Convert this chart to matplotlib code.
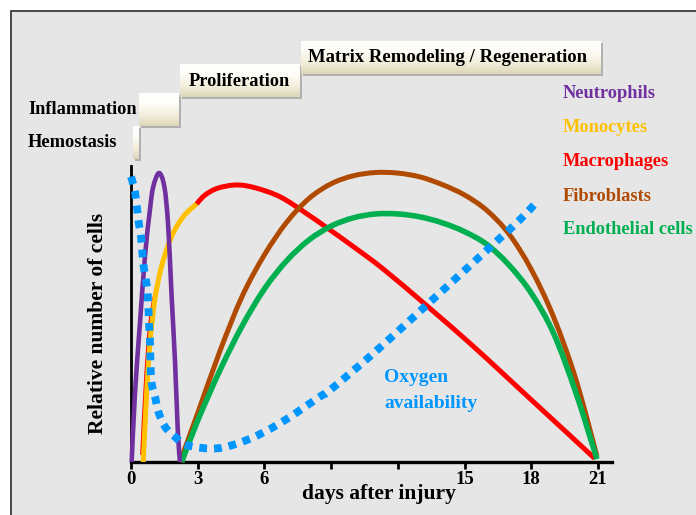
import numpy as np
import matplotlib
matplotlib.use("Agg")
import matplotlib.pyplot as plt
from matplotlib.patches import Rectangle, PathPatch
from matplotlib.path import Path
from matplotlib.colors import LinearSegmentedColormap

# ---------------- data ----------------
neut_x = [0.03, 0.18, 0.40, 0.63, 0.85, 1.00, 1.26, 1.50, 1.67, 1.82, 1.98, 2.10, 2.20]
neut_y = [0.00, 0.233, 0.466, 0.696, 0.851, 0.930, 0.976, 0.930, 0.800, 0.569, 0.338, 0.113, 0.00]

mono_x = [0.55, 0.70, 0.85, 1.07, 1.37, 1.82, 2.35, 2.95]
mono_y = [0.00, 0.232, 0.400, 0.547, 0.660, 0.761, 0.829, 0.872]

macro_early_x = [0.45, 0.63, 0.85, 1.23, 1.67, 2.28, 2.95]
macro_early_y = [0.024, 0.288, 0.490, 0.626, 0.739, 0.823, 0.872]

macro_x = [2.95, 3.33, 3.90, 4.75, 5.60, 6.70, 7.80, 8.95, 10.10, 11.34, 13.30, 15.24, 16.75, 18.10, 19.50, 20.85]
macro_y = [0.872, 0.902, 0.925, 0.936, 0.926, 0.896, 0.844, 0.784, 0.722, 0.652, 0.528, 0.401, 0.297, 0.203, 0.106, 0.012]

fib_x = [2.2, 3.0, 4.0, 5.0, 6.0, 7.0, 8.0, 9.0, 10.0, 11.0, 12.0, 13.0, 14.0, 15.0, 16.0, 17.0, 18.0, 19.0, 20.0, 20.95]
fib_y = [0.00, 0.165, 0.375, 0.560, 0.700, 0.810, 0.890, 0.940, 0.967, 0.978, 0.976, 0.963, 0.937, 0.902, 0.850, 0.770,
         0.650, 0.490, 0.280, 0.020]

endo_x = [2.28, 3.0, 4.0, 5.0, 6.0, 7.0, 8.0, 9.0, 10.0, 11.0, 12.0, 13.0, 14.0, 15.0, 16.0, 17.0, 18.0, 19.0, 20.0, 20.95]
endo_y = [0.00, 0.140, 0.310, 0.460, 0.585, 0.680, 0.750, 0.797, 0.825, 0.838, 0.838, 0.828, 0.808, 0.778, 0.735, 0.665,
          0.570, 0.435, 0.235, 0.010]

oxy_x = [0.00, 0.18, 0.33, 0.45, 0.55, 0.66, 0.75, 0.81, 0.85, 0.88, 0.93, 1.08, 1.23, 1.53, 1.98, 2.50,
         3.85, 5.20, 6.70, 8.50, 8.95, 10.90, 13.00, 15.10, 16.50, 17.48, 18.30]
oxy_y = [0.964, 0.913, 0.818, 0.761, 0.671, 0.620, 0.570, 0.469, 0.418, 0.322, 0.265, 0.221, 0.170, 0.119, 0.085, 0.057,
         0.046, 0.074, 0.131, 0.221, 0.243, 0.367, 0.510, 0.654, 0.750, 0.818, 0.883]

tick_vals = [0, 3, 6, 9, 12, 15, 18, 21]
tick_labels = ["0", "3", "6", "", "", "15", "18", "21"]

legend_names = ["Neutrophils", "Monocytes", "Macrophages", "Fibroblasts", "Endothelial cells"]
phase_names = ["Hemostasis", "Inflammation", "Proliferation", "Matrix Remodeling / Regeneration"]

# ---------------- styling ----------------
C_NEUT = "#7030A0"
C_MONO = "#FFC000"
C_MACRO = "#FF0000"
C_FIB = "#B04A00"
C_ENDO = "#00B050"
C_OXY = "#0096FF"
legend_colors = [C_NEUT, C_MONO, C_MACRO, C_FIB, C_ENDO]

W, H = 696, 515
FONT = "Liberation Serif"

fig = plt.figure(figsize=(W / 100, H / 100), dpi=100)
fig.patch.set_facecolor("white")


def fx(px):
    return px / W


def fy(py):
    return 1 - py / H


# gray panel
fig.patches.append(Rectangle((fx(11), -0.02), 1.05, fy(11) + 0.02, transform=fig.transFigure,
                             facecolor="#e6e6e6", edgecolor="#3a3a3a", linewidth=1.3, zorder=-5))

# axes
x_left, x_right, y_base, y_top = 131, 612, 462, 166
ax = fig.add_axes([fx(x_left), fy(y_base), (x_right - x_left) / W, (y_base - y_top) / H])
ax.set_zorder(1)
ax.set_facecolor("none")
ax.set_xlim(0, (x_right - x_left) / 22.24)
ax.set_ylim(0, 1)
for s in ["top", "right"]:
    ax.spines[s].set_visible(False)
ax.spines["left"].set_linewidth(2.0)
ax.spines["bottom"].set_linewidth(2.4)
ax.spines["left"].set_color("black")
ax.spines["bottom"].set_color("black")
ax.set_yticks([])
ax.set_xticks(tick_vals)
ax.set_xticklabels(tick_labels, fontfamily=FONT, fontweight="bold", fontsize=13.5)
ax.tick_params(axis="x", direction="out", length=5, width=2, pad=1.5)


def smooth_path(xs, ys):
    """Smooth Bezier path through the read points (Catmull-Rom tangents)."""
    p = np.column_stack([xs, ys]).astype(float)
    verts = [p[0]]
    codes = [Path.MOVETO]
    n = len(p)
    for i in range(n - 1):
        p0 = p[i - 1] if i > 0 else p[i]
        p1, p2 = p[i], p[i + 1]
        p3 = p[i + 2] if i + 2 < n else p[i + 1]
        c1 = p1 + (p2 - p0) / 6.0
        c2 = p2 - (p3 - p1) / 6.0
        verts += [c1, c2, p2]
        codes += [Path.CURVE4] * 3
    return Path(verts, codes)


def curve(xs, ys, **kw):
    patch = PathPatch(smooth_path(xs, ys), facecolor="none", clip_on=False, **kw)
    ax.add_patch(patch)


lw = 3.6
curve(macro_early_x, macro_early_y, edgecolor=C_MACRO, lw=1.2, zorder=2)
curve(mono_x, mono_y, edgecolor=C_MONO, lw=lw, zorder=3, capstyle="butt")
curve(macro_x, macro_y, edgecolor=C_MACRO, lw=lw, zorder=3, capstyle="butt")
curve(fib_x, fib_y, edgecolor=C_FIB, lw=lw, zorder=4)
curve(endo_x, endo_y, edgecolor=C_ENDO, lw=lw + 0.4, zorder=5)
curve(neut_x, neut_y, edgecolor=C_NEUT, lw=3.3, zorder=6)
curve(oxy_x, oxy_y, edgecolor=C_OXY, lw=5.6, linestyle=(0, (1, 0.9)), capstyle="butt", zorder=7)

# axis labels
fig.text(fx(98), fy(323), "Relative number of cells", rotation=90, ha="center", va="center",
         fontfamily=FONT, fontweight="bold", fontsize=15.5)
fig.text(fx(379), fy(494), "days after injury", ha="center", va="center",
         fontfamily=FONT, fontweight="bold", fontsize=15.5)

# legend-like labels
leg_y = [94, 128, 162, 196.5, 230]
for name, col, yy in zip(legend_names, legend_colors, leg_y):
    fig.text(fx(563), fy(yy), name, ha="left", va="center", color=col,
             fontfamily=FONT, fontweight="bold", fontsize=13.2)

fig.text(fx(384), fy(378), "Oxygen", ha="left", va="center", color=C_OXY,
         fontfamily=FONT, fontweight="bold", fontsize=14, zorder=10)
fig.text(fx(384), fy(403), "availability", ha="left", va="center", color=C_OXY,
         fontfamily=FONT, fontweight="bold", fontsize=14, zorder=10)

# phase boxes
cmap = LinearSegmentedColormap.from_list("box", ["#ffffff", "#fdfcf6", "#f3efdc", "#ddd6b8"])
grad = np.linspace(0, 1, 64).reshape(-1, 1)


def draw_box(x0, y0, x1, y1):
    fig.patches.append(Rectangle((fx(x0 + 2), fy(y1 + 2)), (x1 - x0) / W, (y1 - y0) / H,
                                 transform=fig.transFigure, facecolor="#b0b0b0",
                                 edgecolor="none", zorder=-1))
    bax = fig.add_axes([fx(x0), fy(y1), (x1 - x0) / W, (y1 - y0) / H])
    bax.set_zorder(2)
    bax.imshow(grad, aspect="auto", cmap=cmap, extent=[0, 1, 0, 1], origin="upper")
    bax.set_axis_off()


boxes = [(133, 126, 139, 159), (139, 93, 179, 126), (180, 64, 300, 97), (301, 41, 601, 74)]
for b in boxes:
    draw_box(*b)

fig.text(fx(72), fy(143), phase_names[0], ha="center", va="center",
         fontfamily=FONT, fontweight="bold", fontsize=13.2, zorder=10)
fig.text(fx(83), fy(109), phase_names[1], ha="center", va="center",
         fontfamily=FONT, fontweight="bold", fontsize=13.2, zorder=10)
fig.text(fx(239), fy(81), phase_names[2], ha="center", va="center",
         fontfamily=FONT, fontweight="bold", fontsize=13.2, zorder=10)
fig.text(fx(448), fy(57), phase_names[3], ha="center", va="center",
         fontfamily=FONT, fontweight="bold", fontsize=13.5, zorder=10)

fig.savefig("out.png", dpi=100)
